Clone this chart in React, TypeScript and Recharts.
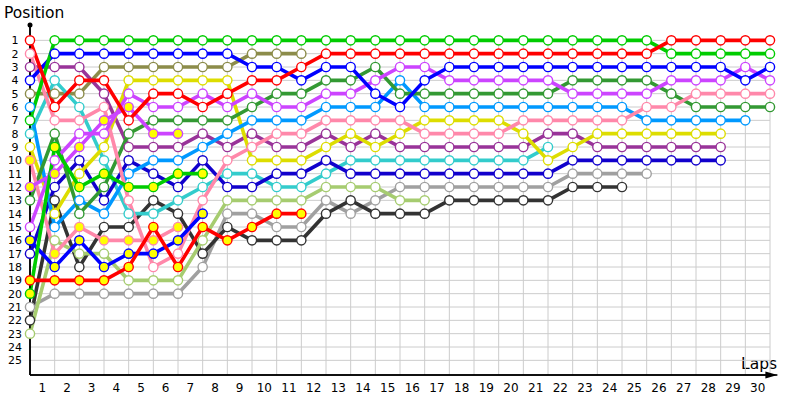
import { LineChart, Line, XAxis, YAxis, CartesianGrid, ReferenceLine, ReferenceDot } from "recharts";

// lap numbers (0 = start) and grid positions
const laps = [0, 1, 2, 3, 4, 5, 6, 7, 8, 9, 10, 11, 12, 13, 14, 15, 16, 17, 18, 19, 20, 21, 22, 23, 24, 25, 26, 27, 28, 29, 30];
const positions = [1, 2, 3, 4, 5, 6, 7, 8, 9, 10, 11, 12, 13, 14, 15, 16, 17, 18, 19, 20, 21, 22, 23, 24, 25];
const lapTicks = [0.5, 1.5, 2.5, 3.5, 4.5, 5.5, 6.5, 7.5, 8.5, 9.5, 10.5, 11.5, 12.5, 13.5, 14.5, 15.5, 16.5, 17.5, 18.5, 19.5, 20.5, 21.5, 22.5, 23.5, 24.5, 25.5, 26.5, 27.5, 28.5, 29.5];
const yMax = 26.1;

// position per lap, index = lap
const red1 = [1, 6, 4, 4, 7, 5, 5, 6, 5, 4, 4, 3, 2, 2, 2, 2, 2, 2, 2, 2, 2, 2, 2, 2, 2, 2, 1, 1, 1, 1, 1];
const green1 = [7, 1, 1, 1, 1, 1, 1, 1, 1, 1, 1, 1, 1, 1, 1, 1, 1, 1, 1, 1, 1, 1, 1, 1, 1, 1, 2, 2, 2, 2, 2];
const blue1 = [4, 2, 2, 2, 2, 2, 2, 2, 2, 3, 3, 4, 3, 3, 5, 6, 4, 3, 3, 3, 3, 3, 3, 3, 3, 3, 3, 3, 3, 4, 3];
const violet1 = [15, 10, 8, 8, 5, 6, 6, 5, 6, 5, 6, 6, 5, 5, 4, 3, 3, 4, 4, 4, 4, 4, 5, 5, 5, 5, 4, 4, 4, 3, 4];
const pink1 = [2, 7, 7, 6, 13, 18, 17, 13, 10, 9, 8, 8, 7, 7, 7, 7, 8, 8, 8, 8, 7, 7, 7, 7, 7, 6, 6, 5, 5, 5, 5];
const darkGreen = [13, 8, 14, 12, 8, 7, 7, 7, 7, 6, 5, 5, 4, 4, 3, 5, 5, 5, 5, 5, 5, 5, 4, 4, 4, 4, 5, 6, 6, 6, 6];
const lightBlue = [6, 15, 13, 14, 11, 10, 10, 9, 8, 7, 7, 7, 6, 6, 6, 4, 6, 6, 6, 6, 6, 6, 6, 6, 6, 7, 7, 7, 7, 7];
const yellow = [9, 14, 11, 9, 4, 4, 4, 4, 4, 10, 10, 10, 9, 8, 9, 8, 7, 7, 7, 7, 8, 10, 9, 8, 8, 8, 8, 8, 8];
const purple = [3, 3, 3, 5, 9, 9, 9, 8, 9, 8, 9, 9, 8, 9, 8, 9, 9, 9, 9, 9, 9, 8, 8, 9, 9, 9, 9, 9, 9];
const darkBlue = [17, 12, 10, 13, 10, 11, 12, 10, 12, 12, 11, 11, 10, 11, 11, 11, 11, 11, 11, 11, 11, 11, 10, 10, 10, 10, 10, 10, 10];
const gray = [21, 20, 20, 20, 20, 20, 20, 18, 14, 14, 15, 15, 13, 14, 13, 12, 12, 12, 12, 12, 12, 12, 11, 11, 11, 11];
const black = [22, 13, 18, 15, 15, 13, 14, 17, 15, 16, 16, 16, 14, 13, 14, 14, 14, 13, 13, 13, 13, 13, 12, 12, 12];
const cyan = [8, 4, 6, 10, 14, 14, 13, 12, 11, 11, 12, 12, 11, 10, 10, 10, 10, 10, 10, 10, 10, 9];
const olive = [5, 5, 5, 3, 3, 3, 3, 3, 3, 2, 2, 2];
const lightGreen = [23, 16, 17, 17, 19, 19, 19, 16, 13, 13, 13, 13, 12, 12, 12, 13, 13];
const red2 = [19, 19, 19, 19, 18, 15, 18, 15, 16, 15, 14, 14];
const green2 = [20, 9, 12, 11, 12, 12, 11, 11];
const blue2 = [16, 18, 16, 18, 17, 17, 16, 14];
const violet2 = [12, 11, 9, 7, 6, 8, 8];
const pink2 = [10, 17, 15, 16, 16, 16, 15];

const drivers = [
  { key: "gray", pos: gray, color: "#a0a0a0", second: false },
  { key: "black", pos: black, color: "#333333", second: false },
  { key: "lightGreen", pos: lightGreen, color: "#a6cc70", second: false },
  { key: "olive", pos: olive, color: "#8c8c4a", second: false },
  { key: "cyan", pos: cyan, color: "#33cccc", second: false },
  { key: "darkBlue", pos: darkBlue, color: "#1100cc", second: false },
  { key: "purple", pos: purple, color: "#993399", second: false },
  { key: "yellow", pos: yellow, color: "#dddd00", second: false },
  { key: "lightBlue", pos: lightBlue, color: "#0099ff", second: false },
  { key: "darkGreen", pos: darkGreen, color: "#339933", second: false },
  { key: "pink1", pos: pink1, color: "#ff88aa", second: false },
  { key: "pink2", pos: pink2, color: "#ff88aa", second: true },
  { key: "violet2", pos: violet2, color: "#cc44ff", second: true },
  { key: "violet1", pos: violet1, color: "#cc44ff", second: false },
  { key: "blue2", pos: blue2, color: "#0000ff", second: true },
  { key: "blue1", pos: blue1, color: "#0000ff", second: false },
  { key: "green2", pos: green2, color: "#00cc00", second: true },
  { key: "green1", pos: green1, color: "#00cc00", second: false },
  { key: "red2", pos: red2, color: "#ff0000", second: true },
  { key: "red1", pos: red1, color: "#ff0000", second: false },
];

const data = laps.map((lap) => {
  const row: Record<string, number | null> = { lap };
  drivers.forEach((d) => {
    row[d.key] = d.pos[lap] ?? null;
  });
  return row;
});

const font = "'DejaVu Sans', sans-serif";

const makeDot = (color: string, fill: string) => (props: any) => {
  const { cx, cy, index, value } = props;
  if (cx == null || cy == null || value == null) return <g key={index} />;
  return <circle key={index} cx={cx} cy={cy} r={4.6} fill={fill} stroke={color} strokeWidth={1.4} />;
};

const LeftTick = (props: any) => (
  <text x={15} y={props.y} dy={4} textAnchor="middle" fontSize={11} fontFamily={font} fill="#000">
    {props.payload.value}
  </text>
);

const RightTick = (props: any) => (
  <text x={777} y={props.y} dy={4} textAnchor="start" fontSize={10.5} fontFamily={font} fill="#000">
    {props.payload.value}
  </text>
);

const Arrow = (props: any) => (
  <path d={`M${props.cx},${props.cy} l-12,-3.5 l0,7 z`} fill="#000" />
);

// grid lines follow the same linear mapping as the axes
const gridRows = ({ offset }: any) => positions.map((p) => offset.top + (p / yMax) * offset.height);
const gridCols = ({ offset }: any) => laps.slice(1).map((l) => offset.left + (l / 30) * offset.width);

export default function App() {
  return (
    <div style={{ position: "absolute", left: 0, top: 0, width: 800, height: 400, background: "#fff", fontFamily: font }}>
      <div style={{ position: "absolute", left: 4, top: 4, fontSize: 15.5, color: "#000" }}>Position</div>
      <div style={{ position: "absolute", left: 741, top: 355, fontSize: 15.5, color: "#000" }}>Laps</div>
      <LineChart width={800} height={400} data={data} margin={{ top: 27, right: 0, bottom: 0, left: 0 }}>
        <CartesianGrid
          yAxisId="l"
          y={40}
          height={335}
          stroke="#cccccc"
          strokeWidth={1}
          horizontalCoordinatesGenerator={gridRows}
          verticalCoordinatesGenerator={gridCols}
        />
        <XAxis
          dataKey="lap"
          type="number"
          domain={[0, 30]}
          ticks={lapTicks}
          tickFormatter={(v: number) => String(v + 0.5)}
          interval={0}
          tickLine={false}
          tickSize={0}
          tickMargin={8}
          height={25}
          axisLine={{ stroke: "#000", strokeWidth: 1.5 }}
          tick={{ fontSize: 12, fontFamily: font, fill: "#000" }}
        />
        <YAxis
          yAxisId="l"
          orientation="left"
          type="number"
          domain={[0, yMax]}
          reversed
          ticks={positions}
          interval={0}
          width={30}
          tickLine={false}
          axisLine={{ stroke: "#000", strokeWidth: 1.5 }}
          tick={<LeftTick />}
        />
        <YAxis
          yAxisId="r"
          orientation="right"
          type="number"
          domain={[0, yMax]}
          reversed
          ticks={positions}
          interval={0}
          width={30}
          tickLine={false}
          axisLine={false}
          tick={<RightTick />}
        />
        <ReferenceLine
          yAxisId="l"
          segment={[{ x: 0, y: -0.15 }, { x: 0, y: yMax }]}
          stroke="#000"
          strokeWidth={1.5}
          ifOverflow="visible"
        />
        <ReferenceLine
          yAxisId="l"
          segment={[{ x: 0, y: yMax }, { x: 30.3, y: yMax }]}
          stroke="#000"
          strokeWidth={1.5}
          ifOverflow="visible"
        />
        <ReferenceDot yAxisId="l" x={0} y={-0.15} r={2.5} fill="#000" stroke="none" ifOverflow="visible" />
        <ReferenceDot yAxisId="l" x={30.3} y={yMax} r={3} ifOverflow="visible" shape={<Arrow />} />
        {drivers.map((d) => (
          <Line
            key={d.key}
            yAxisId="l"
            dataKey={d.key}
            stroke={d.color}
            strokeWidth={3.6}
            dot={makeDot(d.color, d.second ? "#ffff00" : "#ffffff")}
            activeDot={false}
            isAnimationActive={false}
            connectNulls={false}
            type="linear"
          />
        ))}
      </LineChart>
    </div>
  );
}
